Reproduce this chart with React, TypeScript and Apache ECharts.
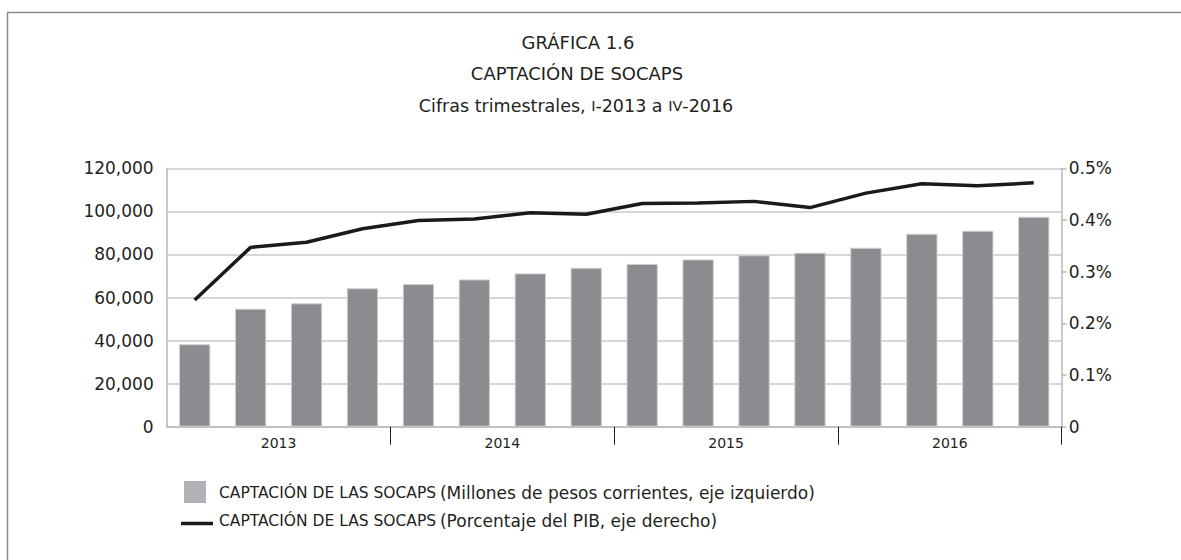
import React, { useEffect, useRef } from "react";
import * as echarts from "echarts";

const quarters = [
  "I-2013", "II-2013", "III-2013", "IV-2013",
  "I-2014", "II-2014", "III-2014", "IV-2014",
  "I-2015", "II-2015", "III-2015", "IV-2015",
  "I-2016", "II-2016", "III-2016", "IV-2016",
];
const years = ["2013", "2014", "2015", "2016"];
const captacionMillones = [
  38300, 54800, 57300, 64300, 66300, 68400, 71200, 73800,
  75600, 77700, 79600, 80800, 83100, 89600, 91000, 97500,
];
const captacionPctPIB = [
  0.245, 0.347, 0.357, 0.383, 0.399, 0.402, 0.414, 0.411,
  0.432, 0.433, 0.436, 0.424, 0.452, 0.470, 0.466, 0.472,
];
const leftTicks = { min: 0, max: 120000, interval: 20000 };
const rightTicks = { min: 0, max: 0.5, interval: 0.1 };

const FONT = "DejaVu Sans";
const INK = "#231f20";

export default function App() {
  const ref = useRef<HTMLDivElement>(null);
  useEffect(() => {
    if (!ref.current) return;
    const chart = echarts.init(ref.current, undefined, { renderer: "svg" });
    chart.setOption({
      animation: false,
      textStyle: { fontFamily: FONT, color: INK },
      grid: { left: 166.7, right: 119.3, top: 168.3, bottom: 133.3, containLabel: false },
      xAxis: [
        {
          type: "category",
          data: quarters,
          position: "bottom",
          axisLine: { show: true, lineStyle: { color: "#b9b9b9", width: 1.5 } },
          axisTick: { show: false },
          axisLabel: { show: false },
          splitLine: { show: false },
        },
        {
          type: "category",
          data: years,
          position: "bottom",
          axisLine: { show: false },
          axisTick: {
            show: true,
            length: 18,
            interval: (i: number) => i > 0,
            lineStyle: { color: INK, width: 1 },
          },
          axisLabel: { show: true, margin: 9, fontSize: 14, fontFamily: FONT, color: INK },
          splitLine: { show: false },
        },
      ],
      yAxis: [
        {
          type: "value",
          min: leftTicks.min,
          max: leftTicks.max,
          interval: leftTicks.interval,
          axisLine: { show: true, lineStyle: { color: "#b9b9b9", width: 1.5 } },
          axisTick: { show: false },
          axisLabel: {
            margin: 13,
            fontSize: 17,
            fontFamily: FONT,
            color: INK,
            formatter: (v: number) => (v === 0 ? "0" : v.toLocaleString("en-US")),
          },
          splitLine: { show: true, lineStyle: { color: "#c8c8c8", width: 1.5 } },
        },
        {
          type: "value",
          min: rightTicks.min,
          max: rightTicks.max,
          interval: rightTicks.interval,
          position: "right",
          axisLine: { show: true, lineStyle: { color: "#b9b9b9", width: 1.5 } },
          axisTick: { show: true, length: 5, lineStyle: { color: "#b9b9b9", width: 1.5 } },
          axisLabel: {
            margin: 7,
            fontSize: 17,
            fontFamily: FONT,
            color: INK,
            formatter: (v: number) => (v === 0 ? "0" : v.toFixed(1) + "%"),
          },
          splitLine: { show: false },
        },
      ],
      series: [
        {
          name: "Captación (millones)",
          type: "bar",
          xAxisIndex: 0,
          yAxisIndex: 0,
          data: captacionMillones,
          barWidth: "56%",
          itemStyle: { color: "#8b8c90", borderColor: "#cfcfcf", borderWidth: 1 },
        },
        {
          name: "Captación (% PIB)",
          type: "line",
          xAxisIndex: 0,
          yAxisIndex: 1,
          data: captacionPctPIB,
          symbol: "none",
          lineStyle: { color: "#1a1a1a", width: 3.5 },
          itemStyle: { color: "#1a1a1a" },
        },
      ],
      graphic: [
        {
          type: "line",
          shape: { x1: 7, y1: 12.5, x2: 1181, y2: 12.5 },
          style: { stroke: "#8a8a8a", lineWidth: 1.5 },
        },
        {
          type: "line",
          shape: { x1: 7.5, y1: 12, x2: 7.5, y2: 560 },
          style: { stroke: "#8a8a8a", lineWidth: 1.5 },
        },
        {
          type: "text",
          x: 578,
          y: 42,
          style: {
            text: "GRÁFICA 1.6",
            align: "center",
            verticalAlign: "middle",
            fontFamily: FONT,
            fontSize: 18,
            fill: INK,
          },
        },
        {
          type: "text",
          x: 577,
          y: 73,
          style: {
            text: "CAPTACIÓN DE SOCAPS",
            align: "center",
            verticalAlign: "middle",
            fontFamily: FONT,
            fontSize: 18,
            fill: INK,
          },
        },
        {
          type: "text",
          x: 576,
          y: 106,
          style: {
            text: "{n|Cifras trimestrales, }{s|I}{n|-2013 a }{s|IV}{n|-2016}",
            align: "center",
            verticalAlign: "middle",
            fontFamily: FONT,
            fill: INK,
            rich: {
              n: { fontFamily: FONT, fontSize: 17.5, fill: INK },
              s: { fontFamily: FONT, fontSize: 14.5, fill: INK },
            },
          },
        },
        {
          type: "rect",
          shape: { x: 184, y: 481, width: 22, height: 22 },
          style: { fill: "#b1b2b5" },
        },
        {
          type: "line",
          shape: { x1: 181, y1: 523.5, x2: 213, y2: 523.5 },
          style: { stroke: "#1a1a1a", lineWidth: 3.5 },
        },
        {
          type: "text",
          x: 219,
          y: 493,
          style: {
            text: "{s|CAPTACIÓN DE LAS SOCAPS} {n|(Millones de pesos corrientes, eje izquierdo)}",
            verticalAlign: "middle",
            fill: INK,
            fontFamily: FONT,
            rich: {
              s: { fontFamily: FONT, fontSize: 15.5, fill: INK },
              n: { fontFamily: FONT, fontSize: 17, fill: INK },
            },
          },
        },
        {
          type: "text",
          x: 219,
          y: 521,
          style: {
            text: "{s|CAPTACIÓN DE LAS SOCAPS} {n|(Porcentaje del PIB, eje derecho)}",
            verticalAlign: "middle",
            fill: INK,
            fontFamily: FONT,
            rich: {
              s: { fontFamily: FONT, fontSize: 15.5, fill: INK },
              n: { fontFamily: FONT, fontSize: 17, fill: INK },
            },
          },
        },
      ],
    });
    return () => chart.dispose();
  }, []);
  return (
    <div
      ref={ref}
      style={{ position: "fixed", left: 0, top: 0, width: 1181, height: 560, background: "#fff" }}
    />
  );
}
